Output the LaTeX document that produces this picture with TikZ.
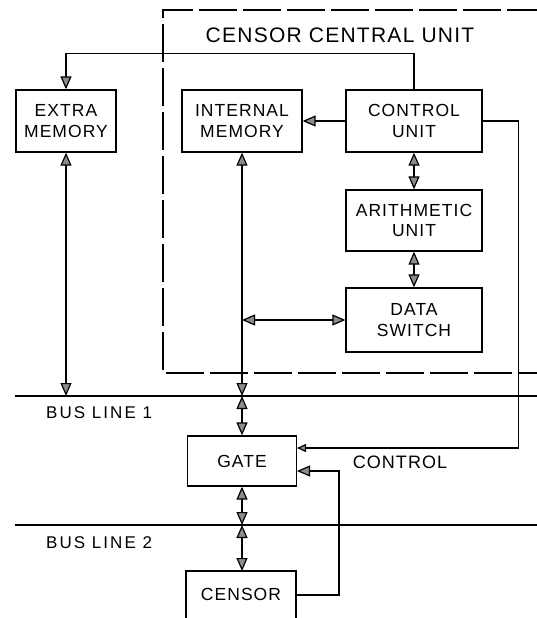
\documentclass[tikz,border=0pt]{standalone}
\usepackage{fontspec}
\setmainfont{Liberation Sans}[LetterSpace=6]
\usetikzlibrary{arrows.meta}
\begin{document}
\begin{tikzpicture}[x=1pt,y=-1pt,
  blk/.style={draw, line width=1.3pt, align=center, inner sep=0pt,
    font=\fontsize{17.5}{20.5}\selectfont},
  lbl/.style={inner sep=0pt, font=\fontsize{17.5}{20.5}\selectfont},
  buslbl/.style={inner sep=0pt, anchor=west, font=\addfontfeature{LetterSpace=12}\fontsize{17}{20}\selectfont},
  conn/.style={line width=1.2pt},
  bus/.style={line width=2.6pt},
  fwd/.style={-{Triangle[length=13pt,width=11pt,fill=black!45]}},
  bidir/.style={{Triangle[length=13pt,width=11pt,fill=black!45]}-{Triangle[length=13pt,width=11pt,fill=black!45]}}
]
\useasboundingbox (0,0) rectangle (537,618);

% dashed enclosure
\draw[line width=1.4pt, dash pattern=on 38pt off 6pt] (545,10) -- (163,10) -- (163,373) -- (545,373);
\node[inner sep=0pt, font=\fontsize{21}{24}\selectfont] (title) at (340,35) {CENSOR CENTRAL UNIT};

% blocks
\node[blk, minimum width=100pt, minimum height=62pt] (extra) at (66,121) {EXTRA\\MEMORY};
\node[blk, minimum width=120pt, minimum height=62pt] (internal) at (242,121) {INTERNAL\\MEMORY};
\node[blk, minimum width=136pt, minimum height=62pt] (control) at (414,121) {CONTROL\\UNIT};
\node[blk, minimum width=136pt, minimum height=61pt] (arith) at (414,220.5) {ARITHMETIC\\UNIT};
\node[blk, minimum width=136pt, minimum height=64pt] (dswitch) at (414,320) {DATA\\SWITCH};
\node[blk, minimum width=109pt, minimum height=50pt] (gate) at (242,461) {GATE};
\node[lbl] (censor) at (241,594) {CENSOR};
\draw[line width=1.3pt] (186,620) -- (186,571) -- (296,571) -- (296,620);

% bus lines
\coordinate (b1l) at (15,396);
\coordinate (b1r) at (537,396);
\coordinate (b2l) at (15,525);
\coordinate (b2r) at (537,525);
\draw[bus] (b1l) -- (b1r);
\draw[bus] (b2l) -- (b2r);
\node[buslbl] (bl1) at (46,412.5) {BUS LINE 1};
\node[buslbl] (bl2) at (46,542.5) {BUS LINE 2};

\coordinate (b1x) at (66,396);
\coordinate (b1i) at (242,396);
\coordinate (b2g) at (242,525);
\coordinate (cenT) at (242,571);
\coordinate (cenR) at (296,595);
\coordinate (dsj) at (242,320);
\coordinate (gctl) at (297,448);
\coordinate (gcen) at (297,471);

% connectors
\draw[conn,fwd] (control.north) -- ++(0,-36) -| (extra.north);
\draw[conn,fwd] (control.west) -- (internal.east);
\draw[conn,bidir] (control.south) -- (arith.north);
\draw[conn,bidir] (arith.south) -- (dswitch.north);
\draw[conn,bidir] (dsj) -- (dswitch.west);
\draw[conn,bidir] (extra.south) -- (b1x);
\draw[conn,bidir] (internal.south) -- (b1i);
\draw[conn,bidir] (b1i) -- (gate.north);
\draw[conn,bidir] (gate.south) -- (b2g);
\draw[conn,bidir] (b2g) -- (cenT);
\draw[conn,-{Triangle[length=9pt,width=8pt,fill=black!45]}] (control.east) -- ++(36,0) |- (gctl);
\draw[conn,fwd] (cenR) -- ++(43,0) |- (gcen);
\node[lbl, font=\fontsize{18}{21}\selectfont] (ctl) at (400,462) {CONTROL};
\end{tikzpicture}
\end{document}
